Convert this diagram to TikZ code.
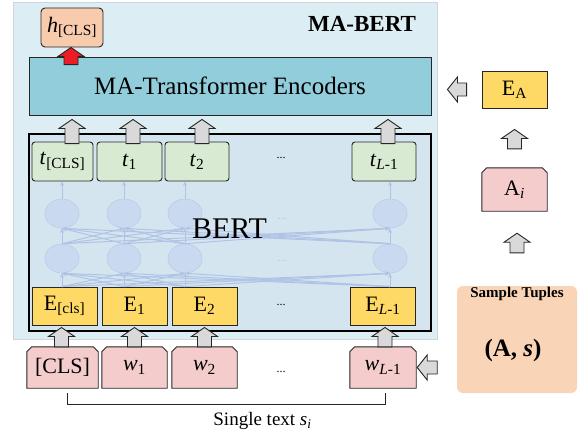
\documentclass[tikz,border=0pt]{standalone}
\usepackage{fontspec}
\setmainfont{Liberation Serif}
\usetikzlibrary{shapes.geometric,arrows.meta,calc}
\definecolor{outerfill}{HTML}{DCEEF4}
\definecolor{outerdraw}{HTML}{CFD6DA}
\definecolor{bertfill}{HTML}{D5E5F0}
\definecolor{encfill}{HTML}{92CDDC}
\definecolor{hfill}{HTML}{F8CBAD}
\definecolor{tfill}{HTML}{D9EAD3}
\definecolor{efill}{HTML}{FFD966}
\definecolor{wfill}{HTML}{F4CCCC}
\definecolor{arrgray}{HTML}{D9D9D9}
\definecolor{arrred}{HTML}{ED1C24}
\definecolor{stfill}{HTML}{FAD4B6}
\definecolor{nfill}{HTML}{C9D9EF}
\definecolor{ndraw}{HTML}{BACCEA}
\definecolor{nline}{HTML}{B0C3E5}
\definecolor{edge}{HTML}{262626}
\pgfdeclarelayer{bg}
\pgfsetlayers{bg,main}
\newcommand\fsz[1]{\fontsize{#1}{#1}\selectfont}
\newcommand\fatup[3]{%
  \draw[fatarr, fill=#3] let \p1=#1, \p2=#2 in
    (\x1-7pt,\y1) -- (\x1-7pt,\y2-9pt) -- (\x1-13pt,\y2-9pt) -- (\x1,\y2)
    -- (\x1+13pt,\y2-9pt) -- (\x1+7pt,\y2-9pt) -- (\x1+7pt,\y1) -- cycle;}
\newcommand\fatleft[3]{%
  \draw[fatarr, fill=#3] let \p1=#1, \p2=#2 in
    (\x1,\y1-6.5pt) -- (\x2+10pt,\y1-6.5pt) -- (\x2+10pt,\y1-12.5pt) -- (\x2,\y1)
    -- (\x2+10pt,\y1+12.5pt) -- (\x2+10pt,\y1+6.5pt) -- (\x1,\y1+6.5pt) -- cycle;}
\newcommand\chamf[1]{%
  \begin{pgfonlayer}{bg}
  \draw[chamfline] (#1.south west) -- ([yshift=-5pt]#1.north west)
    -- ([xshift=5pt]#1.north west) -- ([xshift=-5pt]#1.north east)
    -- ([yshift=-5pt]#1.north east) -- (#1.south east) -- cycle;
  \end{pgfonlayer}}
\tikzset{
  fatarr/.style={draw=edge, line width=0.9pt, line join=miter},
  basebox/.style={draw=edge, line width=0.9pt, inner sep=0pt, font=\fsz{22}},
  tbox/.style={basebox, fill=tfill, rounded corners=3pt, minimum height=39pt},
  ebox/.style={basebox, fill=efill, minimum height=38pt, minimum width=65pt},
  wbox/.style={inner sep=0pt, font=\fsz{22}, minimum height=41pt, minimum width=65pt},
  chamfline/.style={draw=edge, fill=wfill, line width=0.9pt},
  neuron/.style={ellipse, draw=ndraw, fill=nfill, line width=0.6pt,
    minimum width=34pt, minimum height=29pt, inner sep=0pt},
  nconn/.style={draw=nline, line width=1pt, -{Stealth[length=4.5pt,width=4pt]}},
  dots/.style={font=\fsz{12}, inner sep=0pt},
  fdots/.style={font=\fsz{12}, inner sep=0pt, text=nline},
  bracket/.style={draw=edge, line width=1pt}
}
\begin{document}
\begin{tikzpicture}[x=1pt,y=-1pt]
\useasboundingbox (0,0) rectangle (580,436);
% outer MA-BERT panel
\node[draw=outerdraw, fill=outerfill, line width=1pt, minimum width=424pt, minimum height=336pt, inner sep=0pt] (outer) at (225,171) {};
\node[font=\bfseries\fsz{23}] (mabert) at (362,23.5) {MA-BERT};
% encoder
\node[basebox, fill=encfill, minimum width=402pt, minimum height=58pt, font=\fsz{25}] (enc) at (230,86) {MA-Transformer Encoders};
\node[basebox, fill=hfill, rounded corners=4pt, minimum width=62pt, minimum height=39pt] (h) at (72,27.5) {\textit{h}\textsubscript{[CLS]}};
% BERT box
\node[draw=black, fill=bertfill, line width=1.5pt, minimum width=402pt, minimum height=197pt, inner sep=0pt] (bert) at (230,232.5) {};
% neurons
\foreach \n/\x in {1/62,2/124,3/185,4/390}{
  \node[neuron] (u\n) at (\x,213.5) {};
  \node[neuron] (l\n) at (\x,258.5) {};
}
% E boxes
\node[ebox] (ecls) at (64.5,306) {E\textsubscript{[cls]}};
\node[ebox] (e1) at (134.5,306) {E\textsubscript{1}};
\node[ebox] (e2) at (204.5,306) {E\textsubscript{2}};
\node[ebox] (eL) at (383,306) {E\textsubscript{\textit{L}-1}};
% t boxes
\node[tbox, minimum width=61pt] (tcls) at (62.5,161.5) {\textit{t}\textsubscript{[CLS]}};
\node[tbox, minimum width=65pt] (t1) at (129.5,161.5) {\textit{t}\textsubscript{1}};
\node[tbox, minimum width=64pt] (t2) at (197,161.5) {\textit{t}\textsubscript{2}};
\node[tbox, minimum width=64pt] (tL) at (384,161.5) {\textit{t}\textsubscript{\textit{L}-1}};
% connections inside BERT
\foreach \i in {1,2,3,4}{
  \foreach \j in {1,2,3,4}{
    \draw[nconn] (l\i.south |- ecls.north) -- (l\j.south);
    \draw[nconn] (l\i.north) -- (u\j.south);
  }
}
\draw[nconn] (u1.north) -- (u1.north |- tcls.south);
\draw[nconn] (u2.north) -- (u2.north |- t1.south);
\draw[nconn] (u3.north) -- (u3.north |- t2.south);
\draw[nconn] (u4.north) -- (u4.north |- tL.south);
\node[fdots] (d1) at (282,219) {...};
\node[fdots] (d2) at (282,261) {...};
\node[font=\fsz{30}] (berttxt) at (229.5,229) {BERT};
\node[dots] (d3) at (281,158) {...};
\node[dots] (d4) at (281,305) {...};
% w boxes
\node[wbox, minimum width=71pt] (wcls) at (62.5,367.5) {[CLS]};
\node[wbox] (w1) at (134.5,367.5) {\textit{w}\textsubscript{1}};
\node[wbox] (w2) at (204.5,367.5) {\textit{w}\textsubscript{2}};
\node[wbox, minimum width=66pt] (wL) at (383,367.5) {\textit{w}\textsubscript{\textit{L}-1}};
\chamf{wcls}\chamf{w1}\chamf{w2}\chamf{wL}
\node[dots] (d5) at (281,372) {...};
% bracket and label
\draw[bracket] ([xshift=4.5pt,yshift=-5pt]wcls.south) -- ++(0,11) -| ([xshift=2pt,yshift=-5pt]wL.south);
\node[font=\fsz{19}] (single) at (262.5,421) {Single text \textit{s}\textsubscript{\textit{i}}};
% right side
\node[basebox, fill=efill, minimum width=65pt, minimum height=37pt] (ea) at (514.5,89.5) {E\textsubscript{A}};
\node[wbox, minimum width=65pt, minimum height=43pt] (ai) at (514.5,189.5) {A\textsubscript{\textit{i}}};
\chamf{ai}
\node[fill=stfill, rounded corners=6pt, minimum width=120pt, minimum height=107pt, inner sep=0pt] (st) at (517,339.5) {};
\node[font=\bfseries\fsz{15}] (sttitle) at (517,294) {Sample Tuples};
\node[font=\fsz{25}] (stbody) at (513,350) {\textbf{(A, \textit{s})}};
% block arrows
\fatup{($(h.south |- enc.north)+(-1,8)$)}{(h.south)}{arrred}
\fatup{([xshift=9.5pt,yshift=-2pt]tcls.north)}{([yshift=-4pt]enc.south)}{arrgray}
\fatup{([xshift=3.5pt,yshift=-2pt]t1.north)}{([yshift=-4pt]enc.south)}{arrgray}
\fatup{([xshift=5pt,yshift=-2pt]t2.north)}{([yshift=-4pt]enc.south)}{arrgray}
\fatup{([xshift=4pt,yshift=-2pt]tL.north)}{([yshift=-4pt]enc.south)}{arrgray}
\fatup{([xshift=-1pt]wcls.north)}{([yshift=-2pt]ecls.south)}{arrgray}
\fatup{(w1.north)}{([yshift=-2pt]e1.south)}{arrgray}
\fatup{(w2.north)}{([yshift=-2pt]e2.south)}{arrgray}
\fatup{([xshift=2pt]wL.north)}{([yshift=-2pt]eL.south)}{arrgray}
\fatup{($(ai.north)+(0,-19)$)}{($(ea.south)+(0,21)$)}{arrgray}
\fatup{($(st.north)+(0,-33)$)}{($(ai.south)+(0,22)$)}{arrgray}
\fatleft{($(ea.west)+(-15,0)$)}{($(enc.east)+(16,0)$)}{arrgray}
\fatleft{($(wL.east)+(21,0)$)}{($(wL.east)+(1,0)$)}{arrgray}
\end{tikzpicture}
\end{document}
